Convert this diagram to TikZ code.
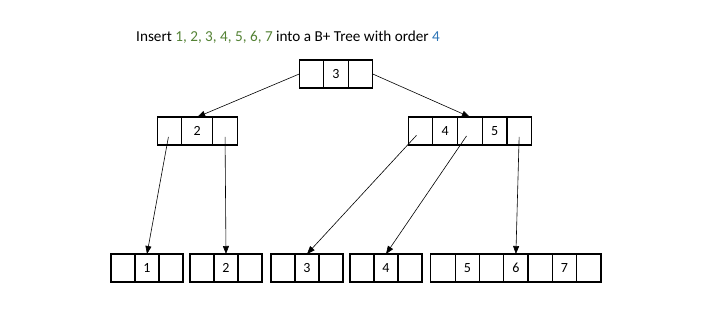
\documentclass[tikz,border=0pt]{standalone}
\usepackage{fontspec}
\setmainfont{Carlito}
\usetikzlibrary{positioning,arrows.meta}
\definecolor{keygreen}{HTML}{548235}
\definecolor{ordblue}{HTML}{2E75B6}

\begin{document}
\begin{tikzpicture}[x=1pt, y=-1pt,
    cell/.style={draw, line width=1.2pt, minimum width=24.5pt, minimum height=28pt,
                 inner sep=0pt, outer sep=0pt, font=\fontsize{14}{16}\selectfont},
    ptr/.style={-{Triangle[width=6pt,length=8pt]}, line width=0.6pt}]
    \useasboundingbox (0,0) rectangle (701,331);
    % Titulinis tekstas
    \node[anchor=west, inner sep=0pt, font=\fontsize{15.2}{18}\selectfont] (title) at (136,37)
        {Insert \textcolor{keygreen}{1, 2, 3, 4, 5, 6, 7} into a B+ Tree with order \textcolor{ordblue}{4}};

    % Saknis
    \node[cell] (r1) at (311.5,74) {};
    \node[cell, right=0pt of r1] (r2) {3};
    \node[cell, right=0pt of r2] (r3) {};

    % Vidiniai mazgai
    \node[cell] (a1) at (169.5,131) {};
    \node[cell, right=0pt of a1, minimum width=31pt] (a2) {2};
    \node[cell, right=0pt of a2] (a3) {};

    \node[cell, minimum width=24.7pt] (b1) at (420.5,131) {};
    \foreach \t [count=\i from 2, evaluate=\i as \p using int(\i-1)] in {4,,5,} {
        \node[cell, minimum width=24.7pt, right=0pt of b\p] (b\i) {\t};
    }

    % Lapai
    \foreach \name/\x/\t in {c1/123/1, c2/202/2, c3/283/3, c4/362/4} {
        \node[cell, minimum width=24pt] (\name-1) at (\x,268) {};
        \node[cell, minimum width=24pt, right=0pt of \name-1] (\name-2) {\t};
        \node[cell, minimum width=24pt, right=0pt of \name-2] (\name-3) {};
    }
    \node[cell, minimum width=24.3pt] (e1) at (443,268) {};
    \foreach \t [count=\i from 2, evaluate=\i as \p using int(\i-1)] in {5,,6,,7,} {
        \node[cell, minimum width=24.3pt, right=0pt of e\p] (e\i) {\t};
    }

    % Rodykles
    \draw[ptr] (r1.west) -- (a2.north);
    \draw[ptr] (r3.east) -- (b3.north);
    \draw[ptr, shorten <=6pt] (a1.center) -- (c1-2.north);
    \draw[ptr, shorten <=6pt] (a3.center) -- (c2-2.north);
    \draw[ptr, shorten <=6pt] (b1.center) -- (c3-2.north);
    \draw[ptr, shorten <=6pt] (b3.center) -- (c4-2.north);
    \draw[ptr, shorten <=6pt] (b5.center) -- (e4.north);
\end{tikzpicture}
\end{document}
